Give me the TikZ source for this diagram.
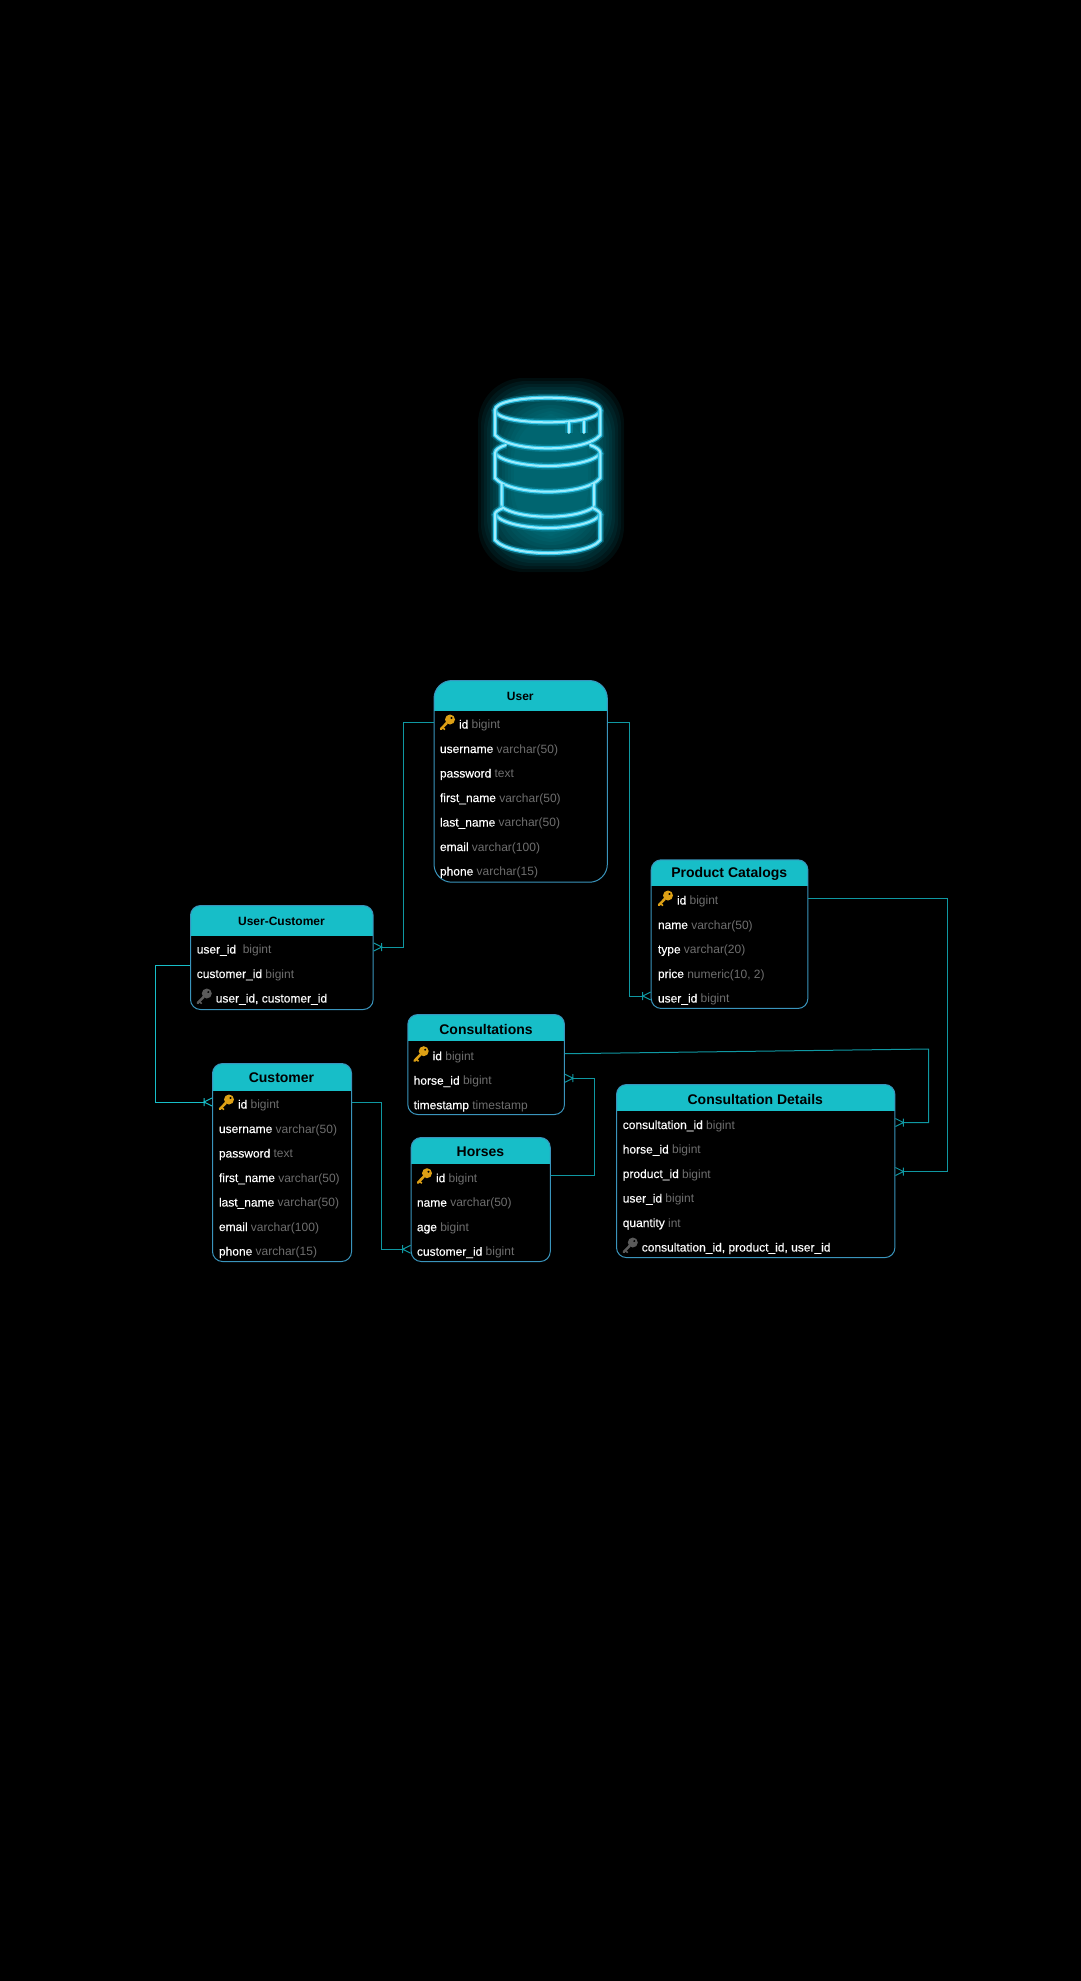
\documentclass[tikz,border=0pt]{standalone}
\usepackage{fontspec}
\setmainfont{Liberation Sans}
\newfontfamily\fieldfont[FakeBold=0.2]{Liberation Sans}
\usetikzlibrary{positioning}

\definecolor{headcyan}{HTML}{17BEC8}
\definecolor{rimblue}{HTML}{3A94BC}
\definecolor{linkteal}{HTML}{0F98A2}
\definecolor{typegrey}{HTML}{6E6E6E}
\definecolor{keygold}{HTML}{DDA015}
\definecolor{keygrey}{HTML}{5A5A5A}
\definecolor{glowteal}{HTML}{0A97A6}
\definecolor{neonhalo}{HTML}{1AA8C8}
\definecolor{neonmid}{HTML}{2CC4E8}
\definecolor{neoncore}{HTML}{A0ECFB}

\pgfdeclarearrow{
  name=crowfoot,
  setup code={\pgfarrowssettipend{0pt}\pgfarrowssetlineend{-6pt}},
  drawing code={
    \pgfpathmoveto{\pgfqpoint{0pt}{3pt}}
    \pgfpathlineto{\pgfqpoint{-6pt}{0pt}}
    \pgfpathlineto{\pgfqpoint{0pt}{-3pt}}
    \pgfpathmoveto{\pgfqpoint{-6pt}{3pt}}
    \pgfpathlineto{\pgfqpoint{-6pt}{-3pt}}
    \pgfusepathqstroke
  }
}

% rows of one table: table name, x, y of first row, list of field/type
\newcommand{\fieldrows}[4]{
  \foreach \fname/\ftype [count=\i] in {#4}
    \node [rowtext] (#1-\i) at (#2,{#3+(\i-1)*24.5}) {{\fieldfont\fname}\ \textcolor{typegrey}{\ftype}};
}
\newcommand{\keyed}[1]{\hspace{14.25pt}#1}

\begin{document}
\begin{tikzpicture}[
        x=0.75pt, y=-0.75pt,
        tablebox/.style={draw=rimblue, line width=0.75pt, fill=black, anchor=north west, inner sep=0pt,
            path picture={\fill [headcyan, sharp corners] (path picture bounding box.north west) rectangle ([yshift=-#1]path picture bounding box.north east);}},
        smalltitle/.style={font=\fontsize{9}{9}\selectfont\bfseries, text=black, inner sep=0pt},
        bigtitle/.style={font=\fontsize{10.5}{10.5}\selectfont\bfseries, text=black, inner sep=0pt},
        rowtext/.style={anchor=west, inner sep=0pt, text=white, text height=10.75pt, text depth=1pt, font=\fontsize{9}{9}\selectfont},
        link/.style={draw=linkteal, line width=0.75pt, -crowfoot},
        neon/.style={line cap=round, line join=round,
            preaction={draw=neonhalo, opacity=0.3, line width=5.5pt},
            preaction={draw=neonmid, line width=3.2pt},
            draw=neoncore, line width=1.5pt},
        keyhead/.pic={
            \fill [even odd rule, pic actions] (10.3,-2.5) circle (5) (11.8,-4) circle (1.3);
            \draw [pic actions, line width=1.9pt, line cap=round] (7,1) -- (1.2,7);
            \draw [pic actions, line width=1.2pt] (3,5.5) -- (5.2,7.6);
        }
    ]
    \useasboundingbox (0,0) rectangle (1081,1981);
    \fill [black] (0,0) rectangle (1081,1981);

    % glow behind the database
    \foreach \inset in {0,3,...,36}
        \fill [glowteal, opacity=0.085, rounded corners=34] (478+\inset,378+\inset) rectangle (624-\inset,572-\inset);

    % database
    \draw [neon] (548,397.7) .. controls (520,397.7) and (495,402) .. (495,410) .. controls (495,418) and (520,422.3) .. (548,422.3) .. controls (576,422.3) and (600.3,418) .. (600.3,410) .. controls (600.3,402) and (576,397.7) .. (548,397.7) -- cycle;
    \draw [neon] (495,410) -- (495,435) .. controls (503,444) and (525,448.3) .. (548,448.3) .. controls (571,448.3) and (593,444) .. (600.3,435) -- (600.3,410);
    \draw [neon] (569,422) -- (569,433);
    \draw [neon] (584,421) -- (584,433);
    \draw [neon] (506,445) .. controls (499,447) and (495,450) .. (495,453) .. controls (500,461) and (525,466) .. (548,466) .. controls (571,466) and (596,461) .. (600.3,453) .. controls (600.3,450) and (596,447) .. (590,445);
    \draw [neon] (495,453) -- (495,478) .. controls (503,487) and (525,491.7) .. (548,491.7) .. controls (571,491.7) and (593,487) .. (600.3,478) -- (600.3,453);
    \draw [neon] (501.7,484) -- (501.7,507) .. controls (510,513) and (528,516.7) .. (548,516.7) .. controls (568,516.7) and (586,513) .. (594,507) -- (594,484);
    \draw [neon] (503,508) .. controls (498,510) and (495,512) .. (495,514) .. controls (500,523) and (525,528) .. (548,528) .. controls (571,528) and (596,523) .. (600.3,514) .. controls (600.3,512) and (597,510) .. (593,508);
    \draw [neon] (495,514) -- (495,540) .. controls (503,549) and (525,553) .. (548,553) .. controls (571,553) and (593,549) .. (600.3,540) -- (600.3,514);

    % tables
    \node [tablebox=23.2pt, rounded corners=13.5pt, minimum width=130pt, minimum height=151.3pt] (user) at (433.5,680) {};
    \node [smalltitle] (user-title) at (520.3,696.5) {User};
    \fieldrows{user}{439.7}{722}{{\keyed{id}/bigint},username/varchar(50),password/text,first\_name/varchar(50),last\_name/varchar(50),email/varchar(100),phone/varchar(15)}

    \node [tablebox=23.2pt, rounded corners=7.5pt, minimum width=137pt, minimum height=78pt] (uc) at (190,905) {};
    \node [smalltitle] (uc-title) at (281.5,921.5) {User-Customer};
    \fieldrows{uc}{196.5}{947}{user\_id\ /bigint,customer\_id/bigint,{\keyed{user\_id, customer\_id}/}}

    \node [tablebox=20.5pt, rounded corners=7.5pt, minimum width=104.3pt, minimum height=148.5pt] (customer) at (212,1063) {};
    \node [bigtitle] (customer-title) at (281.5,1078) {Customer};
    \fieldrows{customer}{218.7}{1102}{{\keyed{id}/bigint},username/varchar(50),password/text,first\_name/varchar(50),last\_name/varchar(50),email/varchar(100),phone/varchar(15)}

    \node [tablebox=20pt, rounded corners=7.5pt, minimum width=117.5pt, minimum height=111.5pt] (pc) at (650.7,859.3) {};
    \node [bigtitle] (pc-title) at (729.2,874) {Product Catalogs};
    \fieldrows{pc}{657.7}{898}{{\keyed{id}/bigint},name/varchar(50),type/varchar(20),{price/numeric(10, 2)},user\_id/bigint}

    \node [tablebox=20pt, rounded corners=7.5pt, minimum width=117.5pt, minimum height=75pt] (consultations) at (407.3,1014) {};
    \node [bigtitle] (consultations-title) at (486,1029) {Consultations};
    \fieldrows{consultations}{413.4}{1053.7}{{\keyed{id}/bigint},horse\_id/bigint,timestamp/timestamp}

    \node [tablebox=20pt, rounded corners=7.5pt, minimum width=104.3pt, minimum height=93pt] (horses) at (410.7,1137) {};
    \node [bigtitle] (horses-title) at (480.4,1152) {Horses};
    \fieldrows{horses}{416.7}{1175.7}{{\keyed{id}/bigint},name/varchar(50),age/bigint,customer\_id/bigint}

    \node [tablebox=20pt, rounded corners=7.5pt, minimum width=208.8pt, minimum height=129.8pt] (details) at (616,1084) {};
    \node [bigtitle] (details-title) at (755.3,1099) {Consultation Details};
    \fieldrows{details}{622.5}{1122.5}{consultation\_id/bigint,horse\_id/bigint,product\_id/bigint,user\_id/bigint,quantity/int,{\keyed{consultation\_id, product\_id, user\_id}/}}

    % key icons
    \pic [keygold] at (user-1.west) {keyhead};
    \pic [keygold] at (customer-1.west) {keyhead};
    \pic [keygold] at (pc-1.west) {keyhead};
    \pic [keygold] at (consultations-1.west) {keyhead};
    \pic [keygold] at (horses-1.west) {keyhead};
    \pic [keygrey] at (uc-3.west) {keyhead};
    \pic [keygrey] at (details-6.west) {keyhead};

    % relations
    \coordinate (consultturn) at (928.7,1049);
    \path [link] (user.west |- user-1) -- ++(-30,0) |- (uc.east |- uc-1);
    \path [link] (user.east |- user-1) -- ++(22,0) |- (pc.west |- pc-5);
    \path [link, draw=headcyan] ([yshift=4.5pt]uc.west |- uc-2) -- ++(-34.3,0) |- (customer.west |- customer-1);
    \path [link] (customer.east |- customer-1) -- ++(29.7,0) |- (horses.west |- horses-4);
    \path [link] (horses.east |- horses-1) -- ++(43.5,0) |- (consultations.east |- consultations-2);
    \path [link] (consultations.east |- consultations-1) -- (consultturn) |- (details.east |- details-1);
    \path [link] (pc.east |- pc-1) -- ++(139,0) |- (details.east |- details-3);
\end{tikzpicture}
\end{document}
